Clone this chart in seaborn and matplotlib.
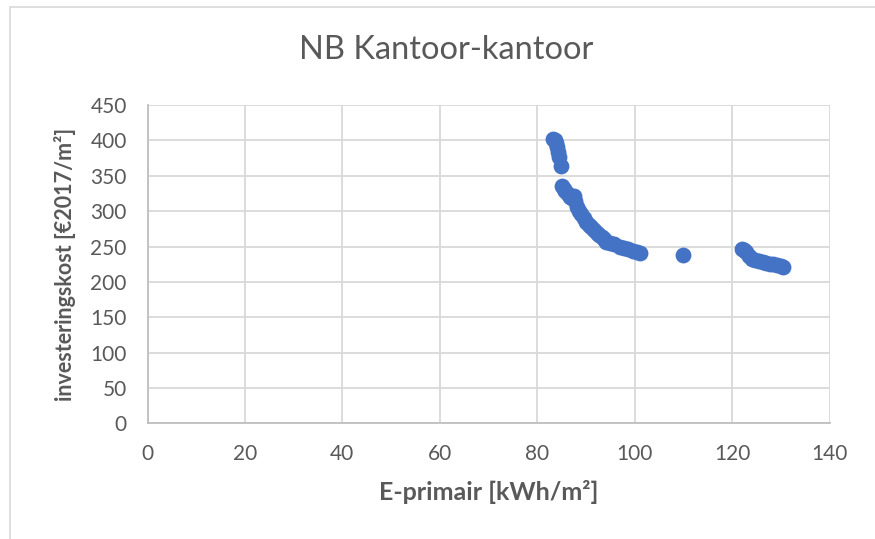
import matplotlib
matplotlib.use("Agg")
import matplotlib.pyplot as plt
import seaborn as sns
import pandas as pd
from matplotlib.patches import Rectangle

# E-primair [kWh/m²] en investeringskost [€2017/m²]
e_primair = [83.3, 83.6, 83.9, 84.1, 84.3, 84.5, 84.8,
             85.0, 85.4, 85.8, 86.3, 86.8, 87.2, 87.5, 87.8, 88.1, 88.5,
             89.0, 89.5, 90.1, 90.6, 91.1, 91.6, 92.2, 92.7, 93.2, 93.7,
             94.2, 95.0, 95.8, 96.9, 97.8, 98.7, 99.7, 100.5, 101.2,
             109.9,
             122.0, 122.4, 122.9, 123.5, 124.1, 124.8, 125.6, 126.3,
             126.9, 127.7, 128.5, 129.3, 130.0, 130.4]
investeringskost = [402, 400, 396, 391, 384, 377, 364,
                    335, 332, 328, 324, 320, 318, 322, 314, 306, 300,
                    296, 291, 285, 281, 277, 273, 269, 266, 263, 260,
                    257, 255, 253, 250, 248, 246, 244, 243, 241,
                    238,
                    247, 245, 242, 237, 233, 231, 230, 228,
                    227, 226, 225, 224, 222, 221]

df = pd.DataFrame({"x": e_primair, "y": investeringskost})

sns.set_style("white")
plt.rcParams['font.family'] = ['Lato', 'DejaVu Sans']

grijs = "#595959"
fig = plt.figure(figsize=(8.75, 5.39), dpi=100)
ax = fig.add_axes([0.1686, 0.2143, 0.7794, 0.5909])

sns.scatterplot(data=df, x="x", y="y", ax=ax, color="#4472C4", s=130,
                edgecolor="#4472C4", linewidth=0, zorder=3)

ax.set_xlim(0, 140)
ax.set_ylim(0, 450)
ax.set_xticks(range(0, 141, 20))
ax.set_yticks(range(0, 451, 50))
ax.grid(True, color="#d9d9d9", linewidth=1.3)
ax.set_axisbelow(True)
for side in ["top", "right"]:
    ax.spines[side].set_visible(False)
for side in ["bottom", "left"]:
    ax.spines[side].set_color("#bfbfbf")
    ax.spines[side].set_linewidth(1.3)
ax.tick_params(axis="both", length=0, labelsize=15, colors=grijs)
ax.tick_params(axis="x", pad=15)
ax.tick_params(axis="y", pad=15)

ax.set_xlabel("E-primair [kWh/m²]", fontsize=18, fontweight="bold",
              color=grijs, labelpad=11)
ax.set_ylabel("investeringskost [€2017/m²]", fontsize=15.5, fontweight="bold",
              color=grijs, labelpad=10)
fig.text(0.51, 0.907, "NB Kantoor-kantoor", ha="center", va="center",
         fontsize=23.5, fontweight="normal", color=grijs)

# kader van de grafiek
fig.add_artist(Rectangle((10 / 875, -0.1), 1.2, 1.0 - 7 / 539 + 0.1,
                         transform=fig.transFigure, fill=False,
                         edgecolor="#d9d9d9", linewidth=1.2))

fig.savefig("out.png", dpi=100)
